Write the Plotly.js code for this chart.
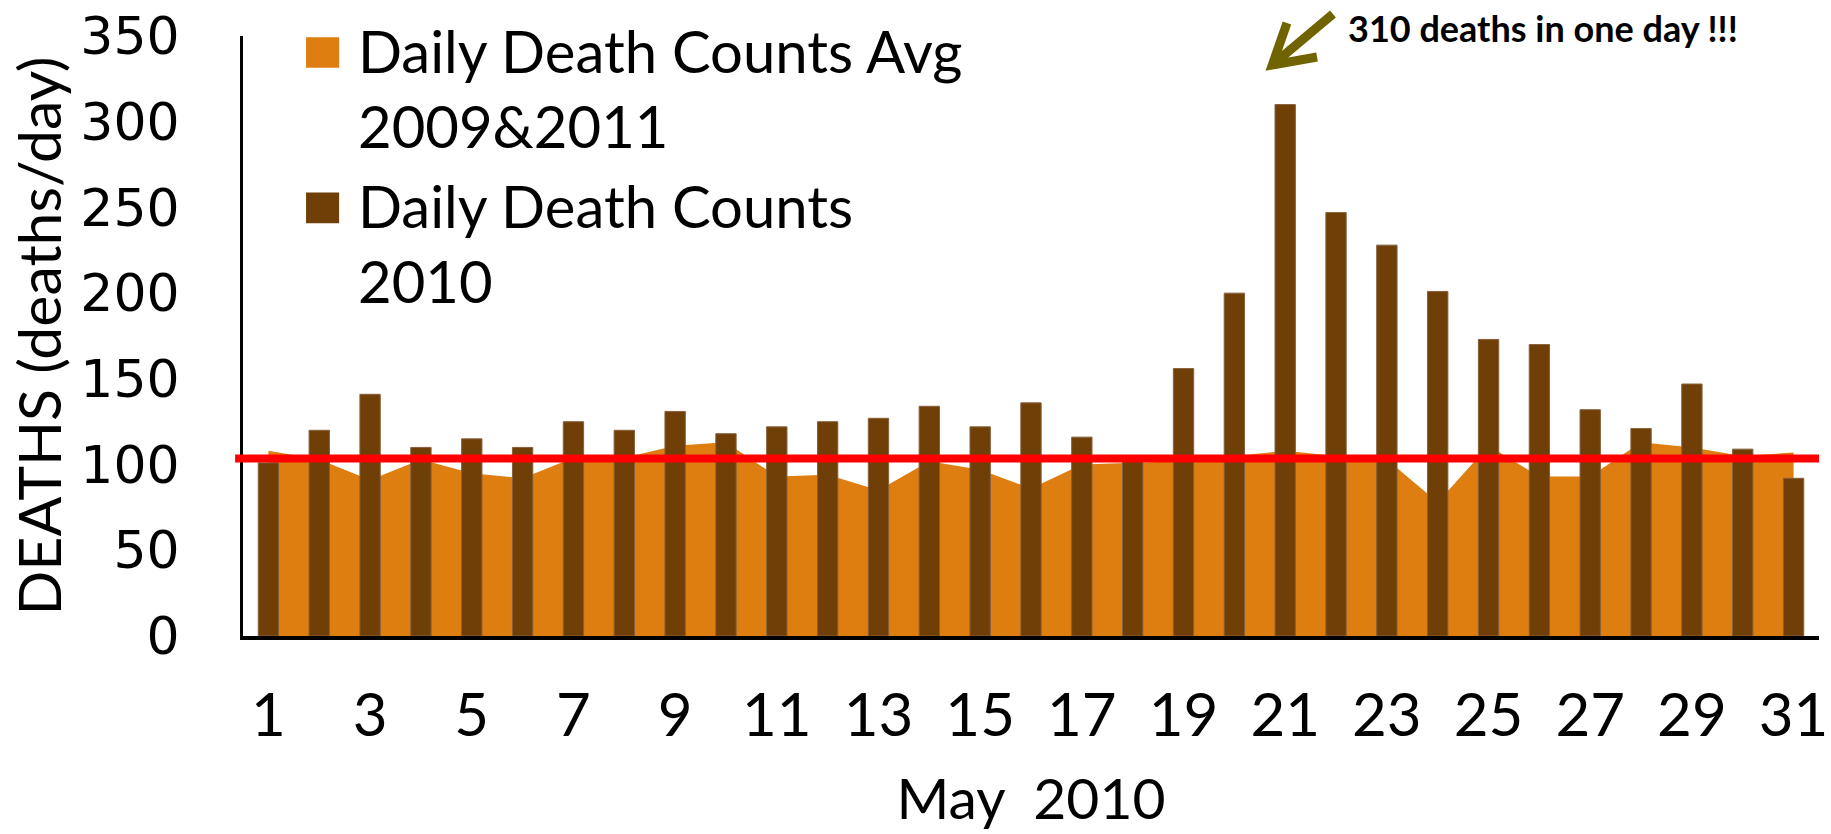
<!DOCTYPE html>
<html>
<head>
<meta charset="utf-8">
<script src="https://cdn.plot.ly/plotly-3.0.1.min.js"></script>
<style>
  body { margin: 0; background: #fff; }
  #chart { width: 1831px; height: 834px; }
</style>
</head>
<body>
<div id="chart"></div>
<script>
// days of May 2010
var days = [1, 2, 3, 4, 5, 6, 7, 8, 9, 10, 11, 12, 13, 14, 15, 16,
            17, 18, 19, 20, 21, 22, 23, 24, 25, 26, 27, 28, 29, 30, 31];

// average of 2009 and 2011 (orange area)
var avg0911 = [108, 103, 91, 103, 95, 92, 104, 104, 111, 113, 93, 94, 85, 102, 97, 86,
               100, 101, 102, 105, 108, 105, 103, 78, 111, 93, 93, 113, 110, 105, 107];

// daily deaths in 2010 (brown bars)
var deaths2010 = [101, 120, 141, 110, 115, 110, 125, 120, 131, 118, 122, 125, 127, 134, 122, 136,
                  116, 103, 156, 200, 310, 247, 228, 201, 173, 170, 132, 121, 147, 109, 92];

var tickDays = [1, 3, 5, 7, 9, 11, 13, 15, 17, 19, 21, 23, 25, 27, 29, 31];
var normalLevel = 103.5;

var orange = '#DF7E10';
var brown = '#703F07';
var olive = '#706400';
var font = 'Lato, "Open Sans", sans-serif';

var area = {
  x: days,
  y: avg0911,
  type: 'scatter',
  mode: 'none',
  fill: 'tozeroy',
  fillcolor: orange,
  name: 'Daily Death Counts Avg 2009&2011',
  xaxis: 'x',
  yaxis: 'y',
  showlegend: false,
  hoverinfo: 'skip'
};

// bars on an overlaid axis so they sit on top of the area
var bars = {
  x: days,
  y: deaths2010,
  type: 'bar',
  width: 0.4,
  marker: {color: brown, line: {color: '#86603a', width: 1}},
  name: 'Daily Death Counts 2010',
  xaxis: 'x',
  yaxis: 'y2',
  showlegend: false,
  hoverinfo: 'skip'
};

var layout = {
  width: 1831,
  height: 834,
  margin: {l: 243, r: 12, t: 36, b: 198},
  paper_bgcolor: '#fff',
  plot_bgcolor: '#fff',
  font: {family: font, color: '#000'},
  xaxis: {
    range: [0.5, 31.5],
    tickvals: tickDays,
    ticks: '',
    showgrid: false,
    zeroline: false,
    showline: true,
    linecolor: '#000',
    linewidth: 4,
    ticklabelstandoff: 24,
    ticklabeloverflow: 'allow',
    tickfont: {family: font, size: 60, color: '#000'},
    title: {text: 'May\u00a0 2010', font: {family: font, size: 57, color: '#000'}, standoff: 32}
  },
  yaxis: {
    range: [0, 350],
    dtick: 50,
    ticks: '',
    showgrid: false,
    zeroline: false,
    showline: true,
    linecolor: '#000',
    linewidth: 3,
    ticklabelstandoff: 50,
    tickfont: {family: '"DejaVu Sans", Verdana, sans-serif', size: 52, color: '#000'},
    title: {text: 'DEATHS (deaths/day)', font: {family: font, size: 59, color: '#000'}, standoff: 0}
  },
  yaxis2: {
    range: [0, 350],
    overlaying: 'y',
    visible: false
  },
  shapes: [
    {type: 'line', xref: 'paper', yref: 'y', x0: -0.005, x1: 1, y0: normalLevel, y1: normalLevel,
     line: {color: '#FF0000', width: 8}, layer: 'above'},
    // legend swatches
    {type: 'rect', xref: 'paper', yref: 'paper', x0: 0.040, x1: 0.061, y0: 0.947, y1: 0.998,
     fillcolor: orange, line: {width: 0}},
    {type: 'rect', xref: 'paper', yref: 'paper', x0: 0.040, x1: 0.061, y0: 0.688, y1: 0.739,
     fillcolor: brown, line: {width: 0}},
    // callout arrow pointing at the peak
    {type: 'path', xref: 'paper', yref: 'paper', layer: 'above',
     path: 'M0.6916,1.0367 L0.6531,0.9517 M0.6624,1.0217 L0.6531,0.9517 L0.6815,0.965',
     line: {color: olive, width: 9}}
  ],
  annotations: [
    {xref: 'paper', yref: 'paper', x: 0.0717, y: 0.914, xanchor: 'left', yanchor: 'middle',
     align: 'left', showarrow: false, text: 'Daily Death Counts Avg<br>2009&amp;2011',
     font: {family: font, size: 58, color: '#000'}},
    {xref: 'paper', yref: 'paper', x: 0.0717, y: 0.655, xanchor: 'left', yanchor: 'middle',
     align: 'left', showarrow: false, text: 'Daily Death Counts<br>2010',
     font: {family: font, size: 58, color: '#000'}},
    {xref: 'paper', yref: 'paper', x: 0.70, y: 1.013, xanchor: 'left', yanchor: 'middle',
     showarrow: false, text: '<b>310 deaths in one day !!!</b>',
     font: {family: font, size: 36, color: '#000'}}
  ]
};

Plotly.newPlot('chart', [area, bars], layout, {displayModeBar: false, staticPlot: true});
</script>
</body>
</html>
